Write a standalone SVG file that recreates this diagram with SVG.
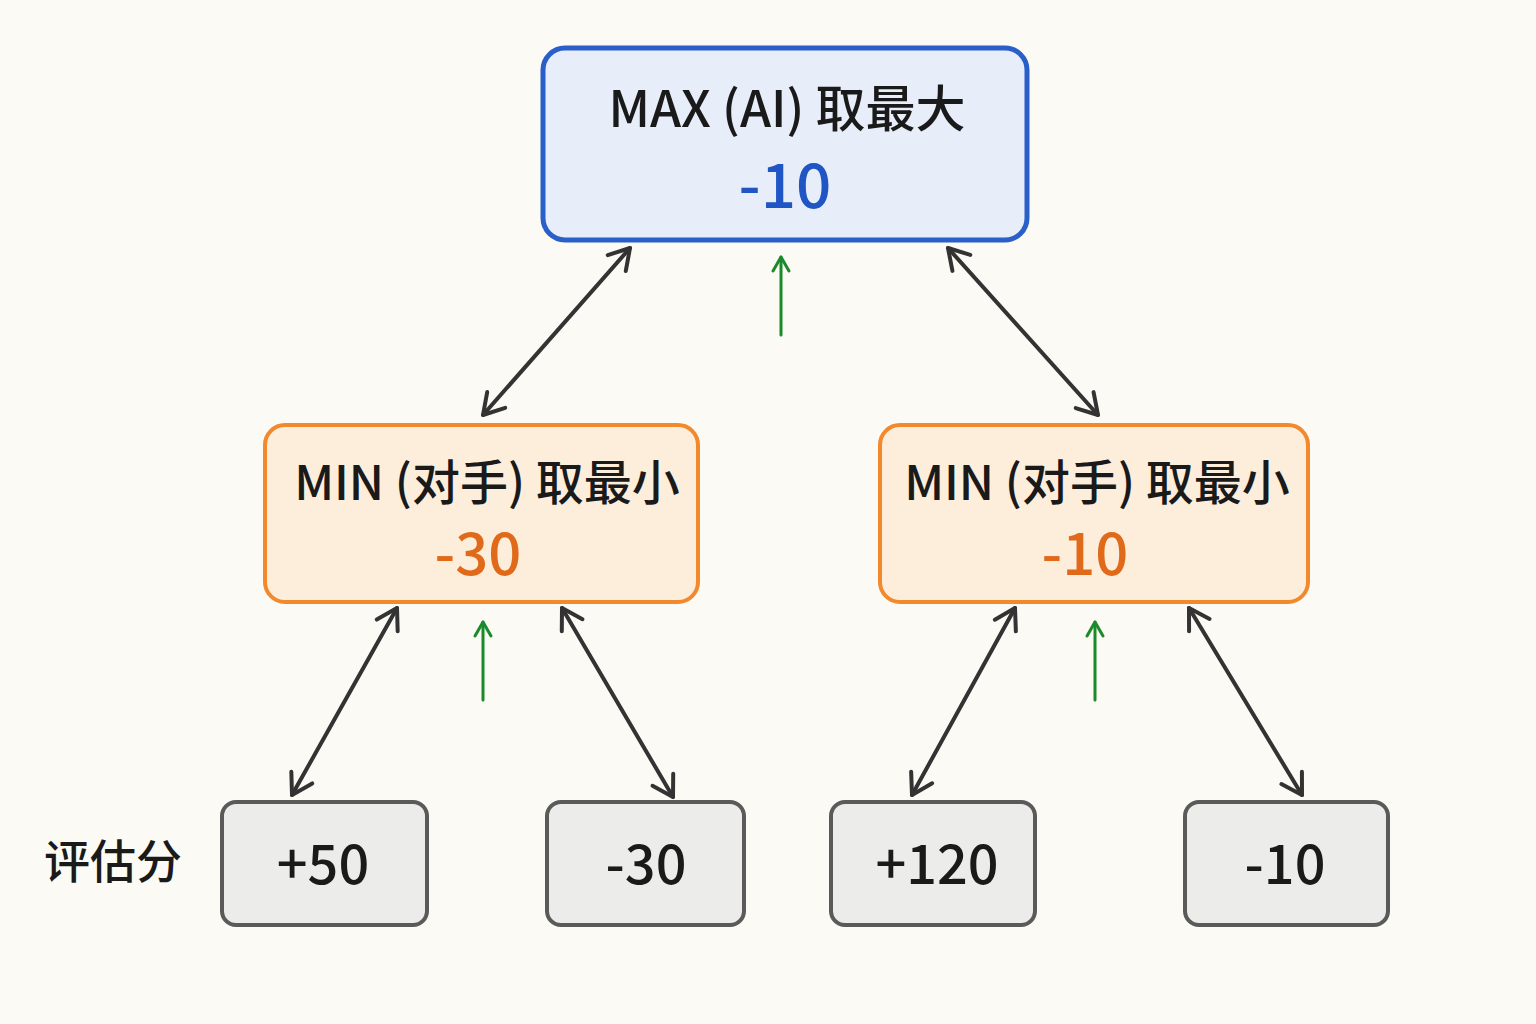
<svg xmlns="http://www.w3.org/2000/svg" width="1536" height="1024" viewBox="0 0 1536 1024">
<defs>
<style>
.t{font-family:"Noto Sans CJK SC","Noto Sans",sans-serif;fill:#1a1a1a;font-weight:500}
.c{stroke:#333;stroke-width:4;fill:none;stroke-linecap:round}
.g{stroke:#1a8a2a;stroke-width:3;fill:none;stroke-linecap:round}
.leaf{fill:#ececea;stroke:#5a5a5a;stroke-width:4}
.min{fill:#fdeedc;stroke:#f2892c;stroke-width:4}
</style>
<marker id="a" viewBox="-30 -16 34 32" refX="0" refY="0" markerWidth="34" markerHeight="32" markerUnits="userSpaceOnUse" orient="auto-start-reverse">
<path d="M-20,-12 L0,0 L-20,12" fill="none" stroke="#333" stroke-width="4" stroke-linecap="round" stroke-linejoin="round"/>
</marker>
<marker id="ga" viewBox="-20 -12 24 24" refX="0" refY="0" markerWidth="24" markerHeight="24" markerUnits="userSpaceOnUse" orient="auto">
<path d="M-14,-8 L0,0 L-14,8" fill="none" stroke="#1a8a2a" stroke-width="3" stroke-linecap="round" stroke-linejoin="round"/>
</marker>
</defs>
<rect width="1536" height="1024" fill="#fbfaf4"/>
<g id="root">
<rect x="543" y="48" width="484" height="192" rx="22" fill="#e7edf9" stroke="#2a5fc9" stroke-width="5"/>
<text class="t" x="787" y="127" font-size="50" text-anchor="middle">MAX (AI) 取最大</text>
<text class="t" x="785" y="208" font-size="62" text-anchor="middle" style="fill:#1f55c4">-10</text>
</g>
<g id="minL">
<rect class="min" x="265" y="425" width="433" height="177" rx="20"/>
<text class="t" x="487" y="500" font-size="48" text-anchor="middle">MIN (对手) 取最小</text>
<text class="t" x="478" y="575" font-size="58" text-anchor="middle" style="fill:#e06a1a">-30</text>
</g>
<g id="minR">
<rect class="min" x="880" y="425" width="428" height="177" rx="20"/>
<text class="t" x="1097" y="500" font-size="48" text-anchor="middle">MIN (对手) 取最小</text>
<text class="t" x="1085" y="575" font-size="58" text-anchor="middle" style="fill:#e06a1a">-10</text>
</g>
<g id="leaves">
<rect class="leaf" x="222" y="802" width="205" height="123" rx="14"/>
<text class="t" x="323" y="884" font-size="54" text-anchor="middle">+50</text>
<rect class="leaf" x="547" y="802" width="197" height="123" rx="14"/>
<text class="t" x="646" y="884" font-size="54" text-anchor="middle">-30</text>
<rect class="leaf" x="831" y="802" width="204" height="123" rx="14"/>
<text class="t" x="937" y="884" font-size="54" text-anchor="middle">+120</text>
<rect class="leaf" x="1185" y="802" width="203" height="123" rx="14"/>
<text class="t" x="1285" y="884" font-size="54" text-anchor="middle">-10</text>
</g>
<g id="label">
<text class="t" x="44" y="878" font-size="46">评估分</text>
</g>
<g id="connectors">
<line class="c" x1="630" y1="248" x2="483" y2="415" marker-start="url(#a)" marker-end="url(#a)"/>
<line class="c" x1="948" y1="248" x2="1098" y2="415" marker-start="url(#a)" marker-end="url(#a)"/>
<line class="c" x1="397" y1="608" x2="292" y2="795" marker-start="url(#a)" marker-end="url(#a)"/>
<line class="c" x1="562" y1="608" x2="673" y2="797" marker-start="url(#a)" marker-end="url(#a)"/>
<line class="c" x1="1015" y1="608" x2="912" y2="795" marker-start="url(#a)" marker-end="url(#a)"/>
<line class="c" x1="1189" y1="608" x2="1302" y2="795" marker-start="url(#a)" marker-end="url(#a)"/>
<line class="g" x1="781" y1="335" x2="781" y2="257" marker-end="url(#ga)"/>
<line class="g" x1="483" y1="700" x2="483" y2="622" marker-end="url(#ga)"/>
<line class="g" x1="1095" y1="700" x2="1095" y2="622" marker-end="url(#ga)"/>
</g>
</svg>
